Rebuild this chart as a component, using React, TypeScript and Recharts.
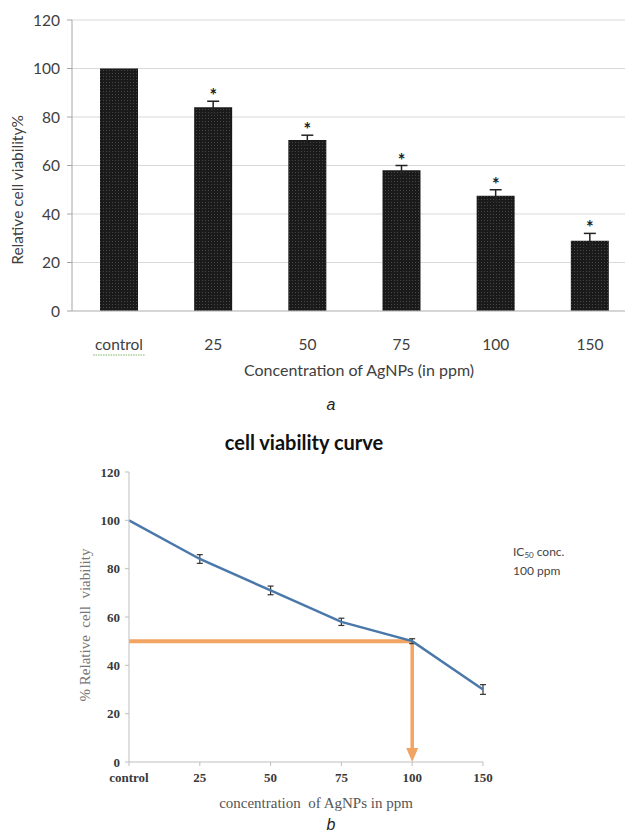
import React from 'react';
import {
  ComposedChart,
  LineChart,
  Bar,
  Line,
  ErrorBar,
  XAxis,
  YAxis,
  CartesianGrid,
  ReferenceLine,
} from 'recharts';

// categories / concentrations (ppm)
const categories = ['control', '25', '50', '75', '100', '150'];
// panel a: bar chart
const barViability = [100, 84, 70.5, 58, 47.5, 29];
const barError = [0, 2.5, 2, 2, 2.5, 3];
const significant = [false, true, true, true, true, true];
// panel b: curve
const curveViability = [100, 84, 71, 58, 50, 30];
const curveError = [0, 1.8, 1.8, 1.5, 1, 2];
const yTicks = [0, 20, 40, 60, 80, 100, 120];
const ic50Conc = '100';
const ic50Value = 50;

const barData = categories.map((cat, i) => ({
  cat,
  viability: barViability[i],
  err: barError[i],
  star: significant[i] ? barViability[i] + barError[i] : null,
}));

const curveData = categories.map((cat, i) => ({
  cat,
  viability: curveViability[i],
  err: curveError[i],
}));

const sans = 'Lato, "Open Sans", sans-serif';
const serif = '"Liberation Serif", "DejaVu Serif", serif';

const BarTick = (props: any) => {
  const { x, y, payload } = props;
  return (
    <g>
      <text x={x} y={y} dy={39} textAnchor="middle" fill="#404040" fontSize={15.5} fontFamily={sans}>
        {payload.value}
      </text>
      {payload.value === 'control' && (
        <line x1={x - 26} x2={x + 26} y1={y + 44} y2={y + 44} stroke="#7ab55c" strokeWidth={1.2} strokeDasharray="1.5 1" />
      )}
    </g>
  );
};

const StarDot = (props: any) => {
  const { cx, cy, value } = props;
  if (value == null || cx == null || cy == null) return null;
  return (
    <text x={cx} y={cy} dy={1} textAnchor="middle" fontSize={18} fontWeight="bold" fontFamily={sans} fill="#222">
      *
    </text>
  );
};

const ArrowLine = (props: any) => {
  const { x1, y1, x2, y2 } = props;
  return (
    <g>
      <line x1={x1} y1={y1} x2={x2} y2={y2 - 10} stroke="#f2a462" strokeWidth={3.5} />
      <polygon points={`${x2 - 6},${y2 - 14} ${x2 + 6},${y2 - 14} ${x2},${y2}`} fill="#f2a462" />
    </g>
  );
};

export default function App() {
  return (
    <div style={{ position: 'relative', width: 633, height: 838, margin: -8, overflow: 'hidden', background: '#fff' }}>
      <div style={{ position: 'absolute', left: 0, top: 0 }}>
        <ComposedChart width={660} height={420} data={barData} margin={{ top: 20, right: 23, bottom: 79, left: 12 }}>
          <defs>
            <pattern id="dots" width="3" height="3" patternUnits="userSpaceOnUse">
              <rect width="3" height="3" fill="#1a1a1a" />
              <rect x="1" y="1" width="1" height="1" fill="#474747" />
            </pattern>
          </defs>
          <CartesianGrid vertical={false} stroke="#d9d9d9" />
          <XAxis
            dataKey="cat"
            height={30}
            tickLine={false}
            tickSize={0}
            tickMargin={0}
            axisLine={{ stroke: '#bfbfbf' }}
            tick={<BarTick />}
          />
          <YAxis
            width={60}
            domain={[0, 120]}
            ticks={yTicks}
            tickSize={5}
            tickMargin={7}
            axisLine={{ stroke: '#a6a6a6' }}
            tickLine={{ stroke: '#a6a6a6' }}
            tick={{ fill: '#404040', fontSize: 15.5, fontFamily: sans }}
          />
          <Bar dataKey="viability" fill="url(#dots)" barSize={38} isAnimationActive={false}>
            <ErrorBar dataKey="err" width={6} stroke="#222" strokeWidth={1.5} />
          </Bar>
          <Line dataKey="star" stroke="none" dot={<StarDot />} activeDot={false} isAnimationActive={false} />
        </ComposedChart>
      </div>

      <div style={{ position: 'absolute', left: 0, top: 420 }}>
        <LineChart width={633} height={418} data={curveData} margin={{ top: 52, right: 150, bottom: 46, left: 9 }}>
          <XAxis
            dataKey="cat"
            height={30}
            tickSize={4}
            tickMargin={7}
            axisLine={{ stroke: '#bfbfbf' }}
            tickLine={{ stroke: '#bfbfbf' }}
            tick={{ fill: '#3a3a3a', fontSize: 13, fontWeight: 'bold', fontFamily: serif }}
          />
          <YAxis
            width={120}
            domain={[0, 120]}
            ticks={yTicks}
            tickSize={4}
            tickMargin={5}
            axisLine={{ stroke: '#bfbfbf' }}
            tickLine={{ stroke: '#bfbfbf' }}
            tick={{ fill: '#3a3a3a', fontSize: 13, fontWeight: 'bold', fontFamily: serif }}
          />
          <ReferenceLine
            segment={[{ x: 'control', y: ic50Value }, { x: ic50Conc, y: ic50Value }]}
            stroke="#f2a462"
            strokeWidth={4}
          />
          <ReferenceLine
            segment={[{ x: ic50Conc, y: ic50Value }, { x: ic50Conc, y: 0 }]}
            shape={<ArrowLine />}
          />
          <Line
            type="linear"
            dataKey="viability"
            stroke="#4a78aa"
            strokeWidth={2.5}
            dot={false}
            activeDot={false}
            isAnimationActive={false}
          >
            <ErrorBar dataKey="err" width={3} stroke="#333" strokeWidth={1.2} />
          </Line>
        </LineChart>
      </div>

      <svg width={633} height={838} style={{ position: 'absolute', left: 0, top: 0, pointerEvents: 'none' }}>
        <text transform="translate(17,190) rotate(-90)" textAnchor="middle" dominantBaseline="central" fontSize={15.5} fontFamily={sans} fill="#404040">
          Relative cell viability%
        </text>
        <text x={359} y={376} textAnchor="middle" fontSize={16} fontFamily={sans} fill="#404040">
          Concentration of AgNPs (in ppm)
        </text>
        <text x={331} y={410} textAnchor="middle" fontSize={16} fontStyle="italic" fontFamily='"Liberation Sans", Arial, sans-serif' fill="#222">
          a
        </text>
        <text x={304} y={450} textAnchor="middle" fontSize={20} fontWeight="bold" fontFamily={sans} fill="#111">
          cell viability curve
        </text>
        <text transform="translate(85,625) rotate(-90)" textAnchor="middle" dominantBaseline="central" fontSize={15} fontFamily={serif} fill="#777" style={{ whiteSpace: 'pre' }}>
          {'% Relative  cell  viability'}
        </text>
        <text x={316} y={808} textAnchor="middle" fontSize={15} fontFamily={serif} fill="#555" style={{ whiteSpace: 'pre' }}>
          {'concentration  of AgNPs in ppm'}
        </text>
        <text x={513} y={556} fontSize={12} fontFamily={sans} fill="#444">
          IC<tspan fontSize={8} dy={2}>50</tspan>
          <tspan dy={-2}> conc.</tspan>
        </text>
        <text x={513} y={575} fontSize={12} fontFamily={sans} fill="#444">
          100 ppm
        </text>
        <text x={331} y={830} textAnchor="middle" fontSize={16} fontStyle="italic" fontFamily='"Liberation Sans", Arial, sans-serif' fill="#222">
          b
        </text>
      </svg>
    </div>
  );
}
